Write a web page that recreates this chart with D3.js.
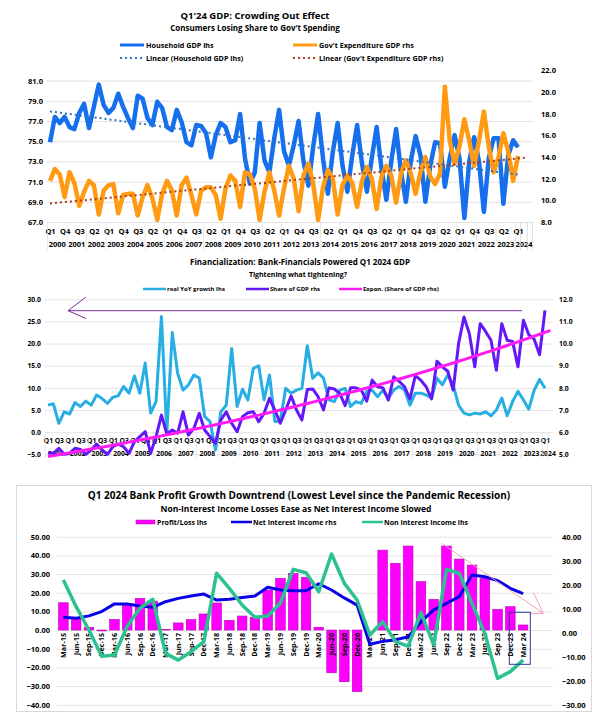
<!DOCTYPE html>
<html><head><meta charset="utf-8">
<script src="https://cdn.jsdelivr.net/npm/d3@7/dist/d3.min.js"></script>
<style>
html,body{margin:0;padding:0;background:#fff;}
svg text{font-family:'Open Sans',Arial,sans-serif;font-weight:700;fill:#000;}
</style></head><body>
<svg id="chart" width="603" height="721"></svg>
<script>
// ---------------- Chart 1 data ----------------
const quarterNames = ["Q1","Q2","Q3","Q4"];
const gdpYears = ["2000","2001","2002","2003","2004","2005","2006","2007","2008","2009","2010","2011","2012",
  "2013","2014","2015","2016","2017","2018","2019","2020","2021","2022","2023","2024"];
const householdGDP = [
  74.9,77.4,76.8,77.4,76.4,76.2,77.8,78.7,76.3,78.4,
  80.6,78.6,77.8,78.3,79.7,78.4,77.3,76.3,79.5,79.2,
  77.3,76.6,78.9,78.3,76.4,76.1,78.1,76.9,74.9,74.6,
  76.6,76.5,75.8,73.4,75.6,76.8,76.4,74.9,75.1,77.7,
  73.3,70.8,71.9,76.8,73.1,71.9,75.3,78.1,74.0,72.6,
  74.6,77.0,73.0,70.6,74.5,77.7,73.3,69.8,73.9,76.8,
  72.6,70.0,73.6,76.6,72.8,70.0,73.3,76.4,72.3,69.2,
  73.0,76.2,72.0,69.0,73.0,75.5,73.6,69.0,72.6,74.9,
  74.8,70.5,73.3,75.6,73.3,67.4,73.0,75.4,73.0,68.0,
  73.3,75.3,75.3,68.8,73.6,75.1,74.4];
const govExpGDP = [
  11.8,12.9,12.4,10.3,12.6,11.6,9.5,10.8,11.8,11.4,
  8.7,10.9,11.4,11.5,8.8,10.5,10.6,10.6,8.6,10.3,
  11.4,10.2,8.2,10.6,11.8,10.9,8.6,11.4,12.1,10.5,
  8.7,10.9,11.2,11.2,10.5,8.3,11.1,12.3,11.8,9.4,
  12.6,12.4,11.1,8.2,10.8,12.6,10.9,8.6,11.1,13.2,
  12.0,9.0,12.3,13.4,11.5,8.2,11.2,12.8,12.0,8.7,
  11.4,12.3,11.6,9.4,11.8,13.1,12.0,9.2,12.2,13.2,
  12.3,9.8,12.5,13.7,12.5,10.6,12.6,14.0,12.2,11.5,
  12.5,20.5,15.5,13.4,15.0,17.5,15.5,13.2,15.5,18.2,
  15.0,12.6,14.0,16.2,14.5,11.8,14.1];
const gdpLeftTicks = [67,69,71,73,75,77,79,81];
const gdpRightTicks = [8,10,12,14,16,18,20,22];

// ---------------- Chart 2 data ----------------
const finYears = ["2001","2002","2003","2004","2005","2006","2007","2008","2009","2010","2011","2012",
  "2013","2014","2015","2016","2017","2018","2019","2020","2021","2022","2023","2024"];
const finQuarterLabels = ["Q1","","Q3",""];
const realYoYGrowth = [
  6.1,6.4,2.0,4.6,4.1,6.7,5.8,7.0,6.1,8.4,
  7.6,6.5,7.9,8.2,10.3,8.8,12.7,8.8,15.6,4.3,
  6.9,26.1,-0.2,22.5,13.3,9.5,10.7,12.9,12.2,3.5,
  2.4,-4.0,4.6,6.1,18.9,5.8,9.7,7.3,14.4,15.0,
  7.3,12.9,2.4,2.5,9.9,8.8,9.5,9.9,19.5,12.2,
  13.4,12.2,7.3,6.9,9.5,9.9,5.8,6.9,6.5,9.2,
  9.5,8.0,9.5,7.7,9.5,10.3,9.5,6.1,8.8,8.8,
  8.4,7.7,12.2,10.7,12.9,10.7,6.1,4.3,3.9,4.3,
  4.1,4.6,3.7,5.0,7.7,3.7,6.9,9.2,7.3,5.2,
  9.5,11.9,9.9];
const finShareGDP = [
  5.07,5.04,5.27,5.0,5.04,5.27,5.22,5.0,5.2,5.46,
  5.2,5.0,5.34,5.46,5.34,5.04,5.57,5.8,6.02,5.04,
  5.8,6.77,5.92,6.1,5.95,6.92,5.87,6.17,6.85,6.1,
  5.8,5.5,6.55,6.92,6.4,6.02,6.7,6.88,6.92,6.47,
  6.85,7.53,7.0,6.4,7.0,7.63,7.0,6.55,7.93,7.95,
  7.6,7.0,8.0,7.95,7.75,7.2,8.0,8.0,7.9,7.4,
  8.35,8.05,8.0,7.45,8.5,8.3,8.05,7.5,8.55,8.35,
  8.05,7.5,9.2,8.95,8.75,7.9,10.0,11.2,10.45,8.95,
  10.9,10.55,10.15,8.8,10.9,10.15,10.1,8.95,11.05,10.4,
  10.2,9.5,11.5];
const finLeftTicks = [-5,0,5,10,15,20,25,30];
const finRightTicks = [5,6,7,8,9,10,11,12];

// ---------------- Chart 3 data ----------------
const bankQuarters = ["Mar-15","Jun-15","Sep-15","Dec-15","Mar-16","Jun-16","Sep-16","Dec-16",
  "Mar-17","Jun-17","Sep-17","Dec-17","Mar-18","Jun-18","Sep-18","Dec-18",
  "Mar-19","Jun-19","Sep-19","Dec-19","Mar-20","Jun-20","Sep-20","Dec-20",
  "Mar-21","Jun-21","Sep-21","Dec-21","Mar-22","Jun 22","Sep 22","Dec 22",
  "Mar 23","Jun 23","Sep 23","Dec-23","Mar 24"];
const profitLoss = [14.6,6.3,1.4,-0.5,5.7,13.5,17.0,15.5,0.3,3.8,5.6,8.6,14.5,5.2,7.5,6.8,
  21.4,27.7,30.3,28.2,1.5,-22.9,-27.7,-33.0,0,42.8,35.7,45.0,25.9,16.4,45.0,38.0,
  34.8,27.7,11.1,12.5,2.7];
const netInterestIncome = [6.4,6.0,7.0,8.8,12.0,12.0,11.1,10.6,12.9,14.3,15.3,16.1,13.6,13.9,14.7,15.3,
  18.9,17.8,17.5,17.5,20.4,17.8,14.5,11.5,-4.8,-3.6,-3.0,-1.7,4.5,9.5,12.2,15.0,
  24.0,23.3,21.7,18.5,16.3];
const nonInterestIncome = [26.8,12.5,0,-14.0,-13.4,2.0,11.7,16.5,-12.5,-16.1,-11.6,-6.2,30.4,22.3,13.4,6.8,
  7.5,14.5,32.5,30.7,20.5,40.7,25.0,16.1,-2.7,4.5,-6.2,-8.6,9.3,-8.0,32.5,30.4,
  14.3,-1.8,-25.9,-22.3,-16.1];
const bankLeftTicks = [-40,-30,-20,-10,0,10,20,30,40,50];
const bankRightTicks = [-30,-20,-10,0,10,20,30,40];

// ---------------- helpers ----------------
const svg = d3.select("#chart");
function label(g, x, y, s, size, anchor){
  return g.append("text").attr("x",x).attr("y",y).attr("font-size",size)
    .attr("text-anchor",anchor||"middle").text(s);
}
function linFit(vals){
  const xs = d3.range(vals.length), mx = d3.mean(xs), my = d3.mean(vals);
  let sxy=0, sxx=0;
  xs.forEach((x,i)=>{ sxy += (x-mx)*(vals[i]-my); sxx += (x-mx)*(x-mx); });
  const b = sxy/sxx, a = my - b*mx;
  return x => a + b*x;
}
function expFit(vals){
  const f = linFit(vals.map(v=>Math.log(v)));
  return x => Math.exp(f(x));
}
function styleAxis(g, size){
  g.attr("font-size", size).attr("font-family", null);
  g.select(".domain").remove();
}

// =============== CHART 1 ===============
(function(){
  const g = svg.append("g");
  const n = householdGDP.length;
  const cats = [];
  gdpYears.forEach(y => quarterNames.forEach(q => cats.push({q, y})));
  cats.length = n;
  const x = d3.scaleLinear().domain([0, n-1]).range([50, 518]);
  const yL = d3.scaleLinear().domain([67, 82]).range([222, 70.5]);
  const yR = d3.scaleLinear().domain([8, 22]).range([222, 70.5]);

  g.append("g").attr("transform","translate(47,0)")
    .call(d3.axisLeft(yL).tickValues(gdpLeftTicks).tickSize(-486).tickFormat(""))
    .call(a=>{a.select(".domain").remove(); a.selectAll("line").attr("stroke","#e2e2e2");});
  g.append("g").attr("transform","translate(43,0)")
    .call(d3.axisLeft(yL).tickValues(gdpLeftTicks).tickSize(0).tickPadding(0).tickFormat(d3.format(".1f")))
    .call(a=>styleAxis(a,7.5));
  g.append("g").attr("transform","translate(541,0)")
    .call(d3.axisRight(yR).tickValues(gdpRightTicks).tickSize(0).tickPadding(0).tickFormat(d3.format(".1f")))
    .call(a=>styleAxis(a,7.5));
  g.append("g").attr("transform","translate(0,222)")
    .call(d3.axisBottom(x).tickValues(d3.range(0, n, 3)).tickSize(0).tickPadding(7)
      .tickFormat(i => cats[i].q))
    .call(a=>styleAxis(a,7.5));
  // year group separators and labels
  gdpYears.forEach((yr, k) => {
    const i0 = 4*k, i1 = Math.min(4*k+3, n-1);
    const t = label(g, x((i0+i1)/2), 247, yr, 7.5);
    if (i1 - i0 < 3) t.attr("x", x(i0) - 2.5).attr("text-anchor","start");
    g.append("line").attr("x1", x(i0-0.5)).attr("x2", x(i0-0.5)).attr("y1",222).attr("y2",250)
      .attr("stroke","#dcdcdc").attr("stroke-width",0.7);
  });
  [x(n-0.5), x(n+0.9), x(n+2)].forEach(xx => g.append("line").attr("x1",xx).attr("x2",xx)
      .attr("y1",222).attr("y2",250).attr("stroke","#cfcfcf").attr("stroke-width",0.7));

  const lineL = d3.line().x((d,i)=>x(i)).y(d=>yL(d));
  const lineR = d3.line().x((d,i)=>x(i)).y(d=>yR(d));
  g.append("path").attr("d", lineL(householdGDP)).attr("fill","none")
    .attr("stroke","#1670ee").attr("stroke-width",4.5).attr("stroke-linejoin","round");
  g.append("path").attr("d", lineR(govExpGDP)).attr("fill","none")
    .attr("stroke","#ff9a12").attr("stroke-width",4.5).attr("stroke-linejoin","round");
  const fH = linFit(householdGDP), fG = linFit(govExpGDP);
  g.append("line").attr("x1",x(0)).attr("y1",yL(fH(0))).attr("x2",x(n-1)).attr("y2",yL(fH(n-1)))
    .attr("stroke","#2f74c0").attr("stroke-width",2).attr("stroke-dasharray","2,3");
  g.append("line").attr("x1",x(0)).attr("y1",yR(fG(0))).attr("x2",x(n+1)).attr("y2",yR(fG(n+1)))
    .attr("stroke","#a4401e").attr("stroke-width",2).attr("stroke-dasharray","2,3");

  label(g, 255, 19, "Q1'24 GDP: Crowding Out Effect", 9.5);
  label(g, 255, 31, "Consumers Losing Share to Gov't Spending", 8);
  const lg = [
    {x:120, y:45, c:"#1670ee", d:null, t:"Household GDP lhs"},
    {x:293, y:45, c:"#ff9a12", d:null, t:"Gov't Expenditure GDP rhs"},
    {x:120, y:58, c:"#2f74c0", d:"2,3", t:"Linear (Household GDP lhs)"},
    {x:293, y:58, c:"#a4401e", d:"2,3", t:"Linear (Gov't Expenditure GDP rhs)"}];
  lg.forEach(o=>{
    g.append("line").attr("x1",o.x).attr("x2",o.x+24).attr("y1",o.y).attr("y2",o.y)
      .attr("stroke",o.c).attr("stroke-width",o.d?2:3).attr("stroke-dasharray",o.d);
    label(g, o.x+26, o.y+2.6, o.t, 7.2, "start");
  });
})();

// =============== CHART 2 ===============
(function(){
  const g = svg.append("g");
  const n = realYoYGrowth.length;
  const cats = [];
  finYears.forEach(y => finQuarterLabels.forEach(q => cats.push({q, y})));
  cats.length = n;
  const x = d3.scaleLinear().domain([0, n-1]).range([48, 545]);
  const yL = d3.scaleLinear().domain([-5, 30]).range([454.3, 299.3]);
  const yR = d3.scaleLinear().domain([5, 12]).range([454.3, 299.3]);

  g.append("g").attr("transform","translate(45,0)")
    .call(d3.axisLeft(yL).tickValues(finLeftTicks).tickSize(-508).tickFormat(""))
    .call(a=>{a.select(".domain").remove(); a.selectAll("line").attr("stroke","#e4e4e4");});
  g.append("g").attr("transform","translate(41,0)")
    .call(d3.axisLeft(yL).tickValues(finLeftTicks).tickSize(0).tickPadding(0).tickFormat(d3.format(".1f")))
    .call(a=>styleAxis(a,6.8));
  g.append("g").attr("transform","translate(559,0)")
    .call(d3.axisRight(yR).tickValues(finRightTicks).tickSize(0).tickPadding(0).tickFormat(d3.format(".1f")))
    .call(a=>styleAxis(a,6.8));
  g.append("g").attr("transform","translate(0,432)")
    .call(d3.axisBottom(x).tickValues(d3.range(0, n, 2)).tickSize(0).tickPadding(6)
      .tickFormat(i => cats[i].q))
    .call(a=>styleAxis(a,6.8));
  finYears.forEach((yr, k) => {
    const i0 = 4*k, i1 = Math.min(4*k+3, n-1);
    const t = label(g, x((i0+i1)/2), 456, yr, 6.8);
    if (i1 - i0 < 3) t.attr("x", x(i0) + 3);
    g.append("line").attr("x1", x(i0-0.5)).attr("x2", x(i0-0.5)).attr("y1",432).attr("y2",458)
      .attr("stroke","#dedede").attr("stroke-width",0.7);
  });
  g.append("line").attr("x1", x(n-0.5)).attr("x2", x(n-0.5)).attr("y1",432).attr("y2",458)
      .attr("stroke","#dedede").attr("stroke-width",0.7);

  const lineL = d3.line().x((d,i)=>x(i)).y(d=>yL(d));
  const lineR = d3.line().x((d,i)=>x(i)).y(d=>yR(d));
  g.append("path").attr("d", lineL(realYoYGrowth)).attr("fill","none")
    .attr("stroke","#27aee3").attr("stroke-width",3).attr("stroke-linejoin","round");
  g.append("path").attr("d", lineR(finShareGDP)).attr("fill","none")
    .attr("stroke","#6418f5").attr("stroke-width",3).attr("stroke-linejoin","round");
  const fE = expFit(finShareGDP);
  const trendIdx = d3.range(0, n+0.01, 1);
  g.append("path").attr("d", d3.line().x(i=>x(i)).y(i=>yR(fE(i)))(trendIdx)).attr("fill","none")
    .attr("stroke","#ff1cf4").attr("stroke-width",3);

  // drawn arrow annotation
  g.append("path").attr("d","M522,310.7 L68,310.7 M86,297 L68,310.7 L86,318.5")
    .attr("fill","none").attr("stroke","#7a2f9e").attr("stroke-width",1);

  label(g, 300, 265, "Financialization: Bank-Financials Powered Q1 2024 GDP", 8);
  label(g, 298, 277, "Tightening what tightening?", 7);
  const lg = [
    {x:143, c:"#27aee3", t:"real YoY growth lhs"},
    {x:246, c:"#6418f5", t:"Share of GDP rhs"},
    {x:339, c:"#ff1cf4", t:"Expon. (Share of GDP rhs)"}];
  lg.forEach(o=>{
    g.append("line").attr("x1",o.x).attr("x2",o.x+23).attr("y1",289).attr("y2",289)
      .attr("stroke",o.c).attr("stroke-width",2.5);
    label(g, o.x+24, 291.3, o.t, 6, "start");
  });
})();

// =============== CHART 3 ===============
(function(){
  const g = svg.append("g");
  g.append("rect").attr("x",16.5).attr("y",485.5).attr("width",575).attr("height",226)
    .attr("fill","#fff").attr("stroke","#d9d9d9");
  const x = d3.scaleBand().domain(bankQuarters).range([57, 57 + bankQuarters.length*12.77]).paddingInner(0.25).paddingOuter(0.125);
  const cx = d => x(d) + x.bandwidth()/2;
  const yL = d3.scaleLinear().domain([-40, 50]).range([704.7, 536.7]);
  const yR = d3.scaleLinear().domain([-30, 40]).range([704.7, 536.7]);

  g.append("g").attr("transform","translate(57,0)")
    .call(d3.axisLeft(yL).tickValues(bankLeftTicks).tickSize(-496).tickFormat(""))
    .call(a=>{a.select(".domain").remove(); a.selectAll("line").attr("stroke","#e4e4e4");});
  g.append("g").attr("transform","translate(50,0)")
    .call(d3.axisLeft(yL).tickValues(bankLeftTicks).tickSize(0).tickPadding(0).tickFormat(d3.format(".2f")))
    .call(a=>styleAxis(a,7.5));
  g.append("g").attr("transform","translate(562,0)")
    .call(d3.axisRight(yR).tickValues(bankRightTicks).tickSize(0).tickPadding(0).tickFormat(d3.format(".2f")))
    .call(a=>styleAxis(a,7.5));

  g.selectAll("rect.bar").data(profitLoss).join("rect").attr("class","bar")
    .attr("x",(d,i)=>x(bankQuarters[i])).attr("width",x.bandwidth())
    .attr("y",d=>yL(Math.max(0,d))).attr("height",d=>Math.abs(yL(d)-yL(0)))
    .attr("fill","#ff00ff").attr("stroke","#b800b8").attr("stroke-width",0.6);

  // rotated category labels
  const xa = g.append("g").attr("transform","translate(0,633)")
    .call(d3.axisBottom(x).tickSize(0).tickPadding(0))
    .call(a=>styleAxis(a,7.2));
  xa.selectAll("text").attr("transform","rotate(-90)").attr("text-anchor","end")
    .attr("dy","0.35em").attr("y",0).attr("x",0);

  g.append("path").attr("d", d3.line().x((d,i)=>cx(bankQuarters[i])).y(d=>yR(d))(netInterestIncome))
    .attr("fill","none").attr("stroke","#0a00e8").attr("stroke-width",3).attr("stroke-linejoin","round");
  g.append("path").attr("d", d3.line().x((d,i)=>cx(bankQuarters[i])).y(d=>yL(d))(nonInterestIncome))
    .attr("fill","none").attr("stroke","#2bc191").attr("stroke-width",3.5).attr("stroke-linejoin","round");

  // annotations
  g.append("path").attr("d","M441.7,543.3 L543.3,613.3 M533.3,592.7 L543.3,613.3 L530,614")
    .attr("fill","none").attr("stroke","#f3a3b6").attr("stroke-width",1);
  g.append("rect").attr("x",509.3).attr("y",612.3).attr("width",21).attr("height",52)
    .attr("fill","none").attr("stroke","#31399a").attr("stroke-width",1);

  label(g, 299, 499, "Q1 2024 Bank Profit Growth Downtrend (Lowest Level since the Pandemic Recession)", 10);
  label(g, 296, 512, "Non-Interest Income Losses Ease as Net Interest Income Slowed", 8.5);
  g.append("rect").attr("x",136).attr("y",520).attr("width",19).attr("height",4).attr("fill","#ff00ff").attr("stroke","#b800b8").attr("stroke-width",0.5);
  label(g, 157, 524.5, "Profit/Loss lhs", 7, "start");
  g.append("line").attr("x1",231).attr("x2",252).attr("y1",522).attr("y2",522).attr("stroke","#0a00e8").attr("stroke-width",2.5);
  label(g, 253, 524.5, "Net Interest Income rhs", 7, "start");
  g.append("line").attr("x1",362).attr("x2",383).attr("y1",522).attr("y2",522).attr("stroke","#2bc191").attr("stroke-width",2.5);
  label(g, 384, 524.5, "Non Interest Income lhs", 7, "start");
})();
</script>
</body></html>
